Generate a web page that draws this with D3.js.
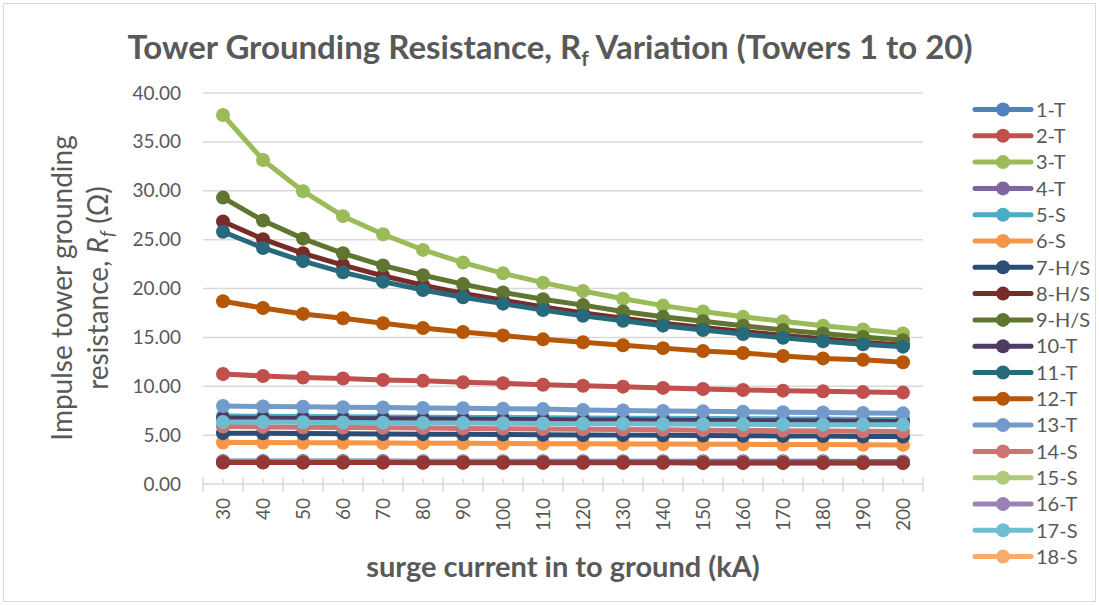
<!DOCTYPE html>
<html>
<head>
<meta charset="utf-8">
<script src="https://cdn.jsdelivr.net/npm/d3@7"></script>
<style>
  body { margin: 0; background: #fff; }
  svg text { font-family: Lato, "Open Sans", sans-serif; fill: #595959; }
</style>
</head>
<body>
<div id="chart"></div>
<script>
const W = 1099, H = 605;
const margin = { top: 93, right: 176, bottom: 121, left: 203 };

// surge current categories (kA)
const currents = [30, 40, 50, 60, 70, 80, 90, 100, 110, 120, 130, 140, 150, 160, 170, 180, 190, 200];
const yTicks = [0, 5, 10, 15, 20, 25, 30, 35, 40];

// tower names (legend only fits the first 18)
const towers = ["1-T", "2-T", "3-T", "4-T", "5-S", "6-S", "7-H/S", "8-H/S", "9-H/S", "10-T",
                "11-T", "12-T", "13-T", "14-S", "15-S", "16-T", "17-S", "18-S", "19-T", "20-T"];

// impulse grounding resistance Rf (ohm) per tower
const rf1  = [2.36, 2.36, 2.35, 2.35, 2.35, 2.34, 2.34, 2.34, 2.33, 2.33, 2.33, 2.33, 2.32, 2.32, 2.32, 2.32, 2.31, 2.31];
const rf2  = [11.26, 11.05, 10.90, 10.80, 10.65, 10.55, 10.40, 10.30, 10.15, 10.05, 9.96, 9.83, 9.72, 9.62, 9.55, 9.48, 9.40, 9.35];
const rf3  = [37.75, 33.15, 29.95, 27.40, 25.55, 23.95, 22.65, 21.55, 20.60, 19.75, 18.95, 18.25, 17.65, 17.10, 16.65, 16.20, 15.80, 15.40];
const rf4  = [2.28, 2.28, 2.27, 2.27, 2.27, 2.26, 2.26, 2.26, 2.25, 2.25, 2.25, 2.25, 2.24, 2.24, 2.24, 2.24, 2.23, 2.23];
const rf5  = [6.95, 6.93, 6.91, 6.88, 6.86, 6.84, 6.81, 6.80, 6.78, 6.76, 6.73, 6.72, 6.70, 6.67, 6.66, 6.64, 6.61, 6.60];
const rf6  = [4.25, 4.24, 4.22, 4.21, 4.19, 4.18, 4.16, 4.15, 4.13, 4.12, 4.10, 4.09, 4.07, 4.06, 4.04, 4.03, 4.01, 4.00];
const rf7  = [5.20, 5.18, 5.16, 5.14, 5.12, 5.10, 5.08, 5.06, 5.04, 5.02, 5.00, 4.98, 4.96, 4.94, 4.92, 4.90, 4.87, 4.85];
const rf8  = [26.85, 25.05, 23.60, 22.40, 21.30, 20.35, 19.50, 18.80, 18.10, 17.50, 16.95, 16.45, 16.00, 15.60, 15.20, 14.85, 14.50, 14.20];
const rf9  = [29.30, 26.95, 25.10, 23.60, 22.35, 21.35, 20.45, 19.60, 18.90, 18.30, 17.65, 17.10, 16.65, 16.20, 15.75, 15.40, 15.05, 14.70];
const rf10 = [6.75, 6.73, 6.71, 6.69, 6.67, 6.65, 6.62, 6.60, 6.58, 6.56, 6.54, 6.52, 6.50, 6.48, 6.46, 6.44, 6.42, 6.40];
const rf11 = [25.80, 24.15, 22.80, 21.65, 20.70, 19.85, 19.10, 18.45, 17.80, 17.20, 16.70, 16.20, 15.75, 15.35, 14.95, 14.60, 14.30, 14.05];
const rf12 = [18.70, 18.00, 17.40, 16.95, 16.45, 15.95, 15.55, 15.20, 14.80, 14.50, 14.20, 13.90, 13.60, 13.40, 13.10, 12.85, 12.70, 12.45];
const rf13 = [7.98, 7.93, 7.90, 7.86, 7.82, 7.78, 7.75, 7.71, 7.66, 7.58, 7.53, 7.48, 7.43, 7.39, 7.35, 7.31, 7.27, 7.23];
const rf14 = [5.87, 5.84, 5.81, 5.78, 5.75, 5.72, 5.69, 5.66, 5.63, 5.60, 5.57, 5.54, 5.51, 5.48, 5.46, 5.43, 5.40, 5.37];
const rf15 = [2.25, 2.25, 2.24, 2.24, 2.24, 2.23, 2.23, 2.23, 2.22, 2.22, 2.22, 2.22, 2.21, 2.21, 2.21, 2.21, 2.20, 2.20];
const rf16 = [2.27, 2.27, 2.26, 2.26, 2.26, 2.25, 2.25, 2.25, 2.24, 2.24, 2.24, 2.24, 2.23, 2.23, 2.23, 2.23, 2.22, 2.22];
const rf17 = [6.35, 6.33, 6.31, 6.29, 6.27, 6.25, 6.23, 6.21, 6.19, 6.17, 6.16, 6.14, 6.12, 6.10, 6.09, 6.07, 6.06, 6.05];
const rf18 = [2.24, 2.24, 2.23, 2.23, 2.23, 2.22, 2.22, 2.22, 2.21, 2.21, 2.21, 2.21, 2.20, 2.20, 2.20, 2.20, 2.19, 2.19];
const rf19 = [2.22, 2.22, 2.21, 2.21, 2.21, 2.20, 2.20, 2.20, 2.19, 2.19, 2.19, 2.19, 2.18, 2.18, 2.18, 2.18, 2.17, 2.17];
const rf20 = [2.20, 2.20, 2.19, 2.19, 2.19, 2.18, 2.18, 2.18, 2.17, 2.17, 2.17, 2.17, 2.16, 2.16, 2.16, 2.16, 2.15, 2.15];

const rfValues = [rf1, rf2, rf3, rf4, rf5, rf6, rf7, rf8, rf9, rf10,
                  rf11, rf12, rf13, rf14, rf15, rf16, rf17, rf18, rf19, rf20];

// excel 2010 office palette
const palette = ["#4F81BD", "#C0504D", "#9BBB59", "#8064A2", "#4BACC6", "#F79646",
                 "#2C4D75", "#772C2A", "#5F7530", "#4D3B62", "#276A7C", "#B65708",
                 "#729ACA", "#CD7371", "#AFC97A", "#9983B5", "#6FBDD1", "#F9AB6B",
                 "#376092", "#953735"];
const legendCount = 18;

const series = towers.map((name, i) => ({
  name,
  color: palette[i],
  values: currents.map((c, j) => ({ c, v: rfValues[i][j] }))
}));

const svg = d3.select("#chart").append("svg")
  .attr("width", W)
  .attr("height", H);

// chart area border
svg.append("rect")
  .attr("x", 3.5).attr("y", 3.5)
  .attr("width", W - 7).attr("height", H - 7)
  .attr("fill", "#fff")
  .attr("stroke", "#D9D9D9");

const pw = W - margin.left - margin.right;
const ph = H - margin.top - margin.bottom;
const g = svg.append("g").attr("transform", `translate(${margin.left},${margin.top})`);

const x = d3.scaleBand().domain(currents).range([0, pw]).padding(0);
const y = d3.scaleLinear().domain([0, 40]).range([ph, 0]);
const cx = c => x(c) + x.bandwidth() / 2;

// gridlines
g.append("g")
  .selectAll("line")
  .data(yTicks.filter(t => t > 0))
  .join("line")
    .attr("x1", 0).attr("x2", pw)
    .attr("y1", d => y(d)).attr("y2", d => y(d))
    .attr("stroke", "#D9D9D9")
    .attr("stroke-width", 1.5);

// y axis labels
g.append("g")
  .call(d3.axisLeft(y).tickValues(yTicks).tickFormat(d => d.toFixed(2)).tickSize(0).tickPadding(22))
  .call(a => a.select(".domain").remove())
  .selectAll("text")
    .style("font-size", "19px")
    .attr("fill", "#595959");

// x axis line and ticks
const xa = g.append("g").attr("transform", `translate(0,${ph})`);
xa.append("line")
  .attr("x1", 0).attr("x2", pw)
  .attr("stroke", "#D9D9D9").attr("stroke-width", 1.5);
xa.selectAll(".major")
  .data(currents.map(c => x(c)).concat([pw]))
  .join("line")
    .attr("x1", d => d).attr("x2", d => d)
    .attr("y1", -7).attr("y2", 8)
    .attr("stroke", "#D9D9D9").attr("stroke-width", 1.5);
xa.selectAll(".minor")
  .data(currents)
  .join("line")
    .attr("x1", d => cx(d)).attr("x2", d => cx(d))
    .attr("y1", -5).attr("y2", 0)
    .attr("stroke", "#D9D9D9").attr("stroke-width", 1.5);
xa.selectAll(".lbl")
  .data(currents)
  .join("text")
    .attr("transform", d => `translate(${cx(d)},14) rotate(-90)`)
    .attr("text-anchor", "end")
    .attr("dy", "0.35em")
    .style("font-size", "19px")
    .text(d => d);

// lines
const line = d3.line()
  .x(d => cx(d.c))
  .y(d => y(d.v));

const sg = g.append("g")
  .selectAll("g")
  .data(series)
  .join("g");

sg.append("path")
  .attr("d", d => line(d.values))
  .attr("fill", "none")
  .attr("stroke", d => d.color)
  .attr("stroke-width", 5)
  .attr("stroke-linejoin", "round")
  .attr("stroke-linecap", "round");

sg.selectAll("circle")
  .data(d => d.values.map(v => ({ ...v, color: d.color })))
  .join("circle")
    .attr("cx", d => cx(d.c))
    .attr("cy", d => y(d.v))
    .attr("r", 7)
    .attr("fill", d => d.color);

// title
const title = svg.append("text")
  .attr("x", 550).attr("y", 59)
  .attr("text-anchor", "middle")
  .style("font-size", "33px")
  .style("font-weight", "bold");
title.append("tspan").text("Tower Grounding Resistance, R");
title.append("tspan").attr("dy", 7).style("font-size", "21px").text("f");
title.append("tspan").attr("dy", -7).text(" Variation (Towers 1 to 20)");

// y title
const yt = svg.append("text")
  .attr("transform", "translate(0,288) rotate(-90)")
  .attr("text-anchor", "middle")
  .style("font-size", "28px");
yt.append("tspan").attr("x", 0).attr("y", 72).text("Impulse tower grounding");
const yt2 = yt.append("tspan").attr("x", 0).attr("y", 108);
yt2.append("tspan").text("resistance, ");
yt2.append("tspan").style("font-style", "italic").text("R");
yt2.append("tspan").attr("dy", 6).style("font-style", "italic").style("font-size", "19px").text("f");
yt2.append("tspan").attr("dy", -6).text(" (\u03A9)");

// x title
svg.append("text")
  .attr("x", margin.left + pw / 2).attr("y", 577)
  .attr("text-anchor", "middle")
  .style("font-size", "29px")
  .style("font-weight", "bold")
  .text("surge current in to ground (kA)");

// legend
const leg = svg.append("g")
  .selectAll("g")
  .data(series.slice(0, legendCount))
  .join("g")
    .attr("transform", (d, i) => `translate(975,${109.5 + i * 26.3})`);
leg.append("line")
  .attr("x1", 0).attr("x2", 56)
  .attr("stroke", d => d.color)
  .attr("stroke-width", 5)
  .attr("stroke-linecap", "round");
leg.append("circle")
  .attr("cx", 28).attr("r", 7)
  .attr("fill", d => d.color);
leg.append("text")
  .attr("x", 61).attr("dy", "0.36em")
  .style("font-size", "20px")
  .text(d => d.name);
</script>
</body>
</html>
